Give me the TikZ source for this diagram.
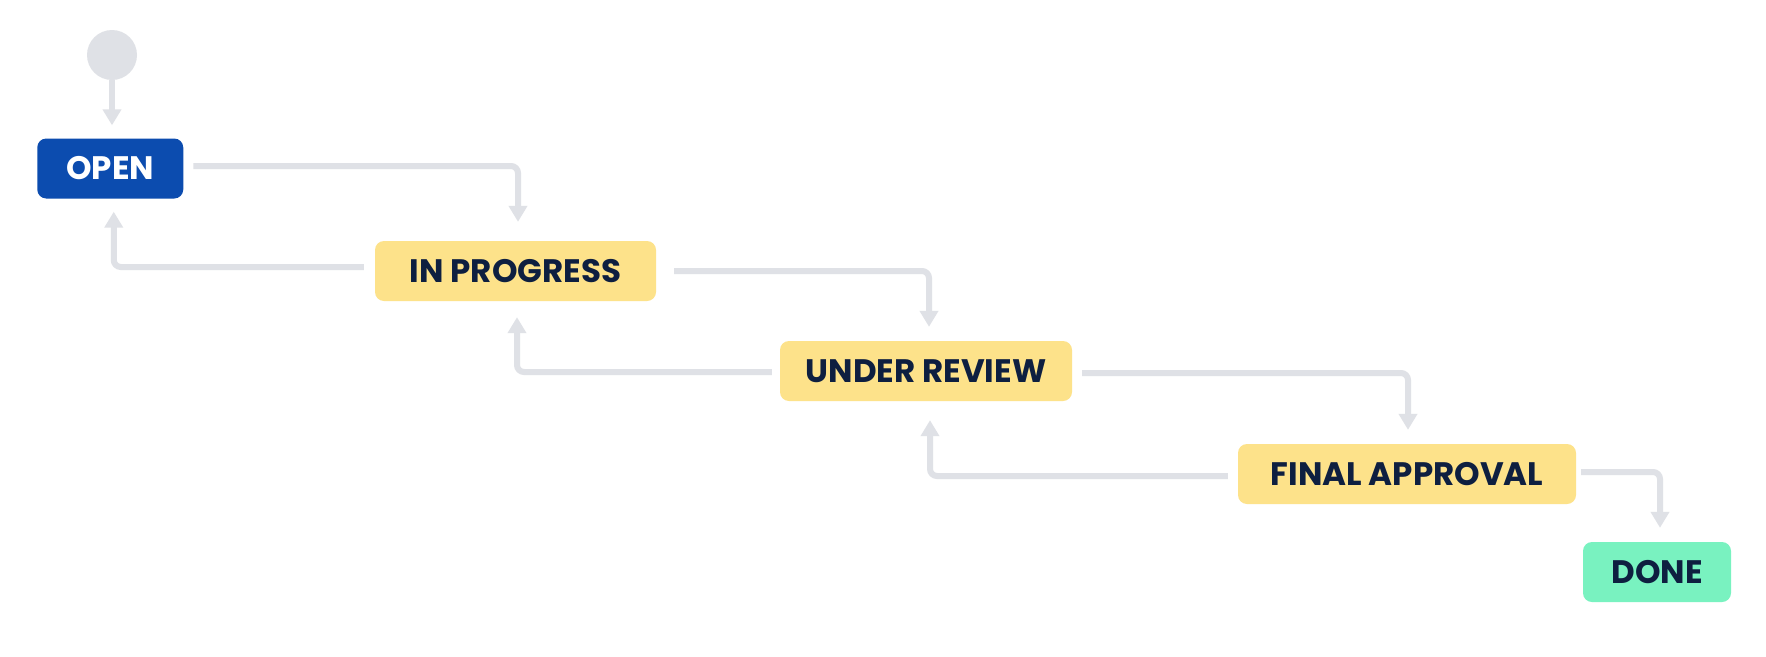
\documentclass[tikz,border=0pt]{standalone}
\usepackage{fontspec}
\setmainfont{Poppins}[UprightFont=* Bold, BoldFont=* Bold]
\usetikzlibrary{arrows.meta}
\definecolor{cline}{HTML}{DFE1E6}
\definecolor{cblue}{HTML}{0C4CAF}
\definecolor{cyellow}{HTML}{FDE28A}
\definecolor{cgreen}{HTML}{79F2C0}
\definecolor{ctext}{HTML}{0E1F40}
\tikzset{
  state/.style={rectangle, rounded corners=9pt, minimum height=60pt, inner sep=0pt,
    font=\fontsize{32.5}{38}\selectfont, text=ctext},
  conn/.style={draw=cline, line width=6pt, rounded corners=7pt,
    -{Triangle[width=18pt,length=16pt]}},
}
\begin{document}
\begin{tikzpicture}[x=1pt,y=-1pt]
\useasboundingbox[fill=white] (0,0) rectangle (1766,656);
\node[circle, fill=cline, minimum size=50pt, inner sep=0pt] (start) at (112,55) {};
\node[state, fill=cblue, text=white, minimum width=146pt] (open) at (110.25,168.5) {OPEN};
\node[state, fill=cyellow, minimum width=281pt] (inprog) at (515.5,271) {IN PROGRESS};
\node[state, fill=cyellow, minimum width=292pt] (under) at (926,371) {UNDER REVIEW};
\node[state, fill=cyellow, minimum width=338pt] (final) at (1407,474) {FINAL APPROVAL};
\node[state, fill=cgreen, minimum width=148pt] (done) at (1657,572) {DONE};
% forward
\draw[conn] (start.south) -- ([yshift=13pt]start.south |- open.north);
\draw[conn] ([xshift=10pt,yshift=2.5pt]open.east) -| ([xshift=2.5pt,yshift=19pt]inprog.north);
\draw[conn] ([xshift=18pt]inprog.east) -| ([xshift=3pt,yshift=14pt]under.north);
\draw[conn] ([xshift=10pt,yshift=-2pt]under.east) -| ([xshift=1pt,yshift=14pt]final.north);
\draw[conn] ([xshift=5pt,yshift=2pt]final.east) -| ([xshift=3pt,yshift=14pt]done.north);
% backward
\draw[conn] ([xshift=-11pt,yshift=4pt]inprog.west) -| ([xshift=3.5pt,yshift=-13pt]open.south);
\draw[conn] ([xshift=-8pt,yshift=-1pt]under.west) -| ([xshift=1.5pt,yshift=-16pt]inprog.south);
\draw[conn] ([xshift=-10pt,yshift=-2pt]final.west) -| ([xshift=4pt,yshift=-19pt]under.south);
\end{tikzpicture}
\end{document}
